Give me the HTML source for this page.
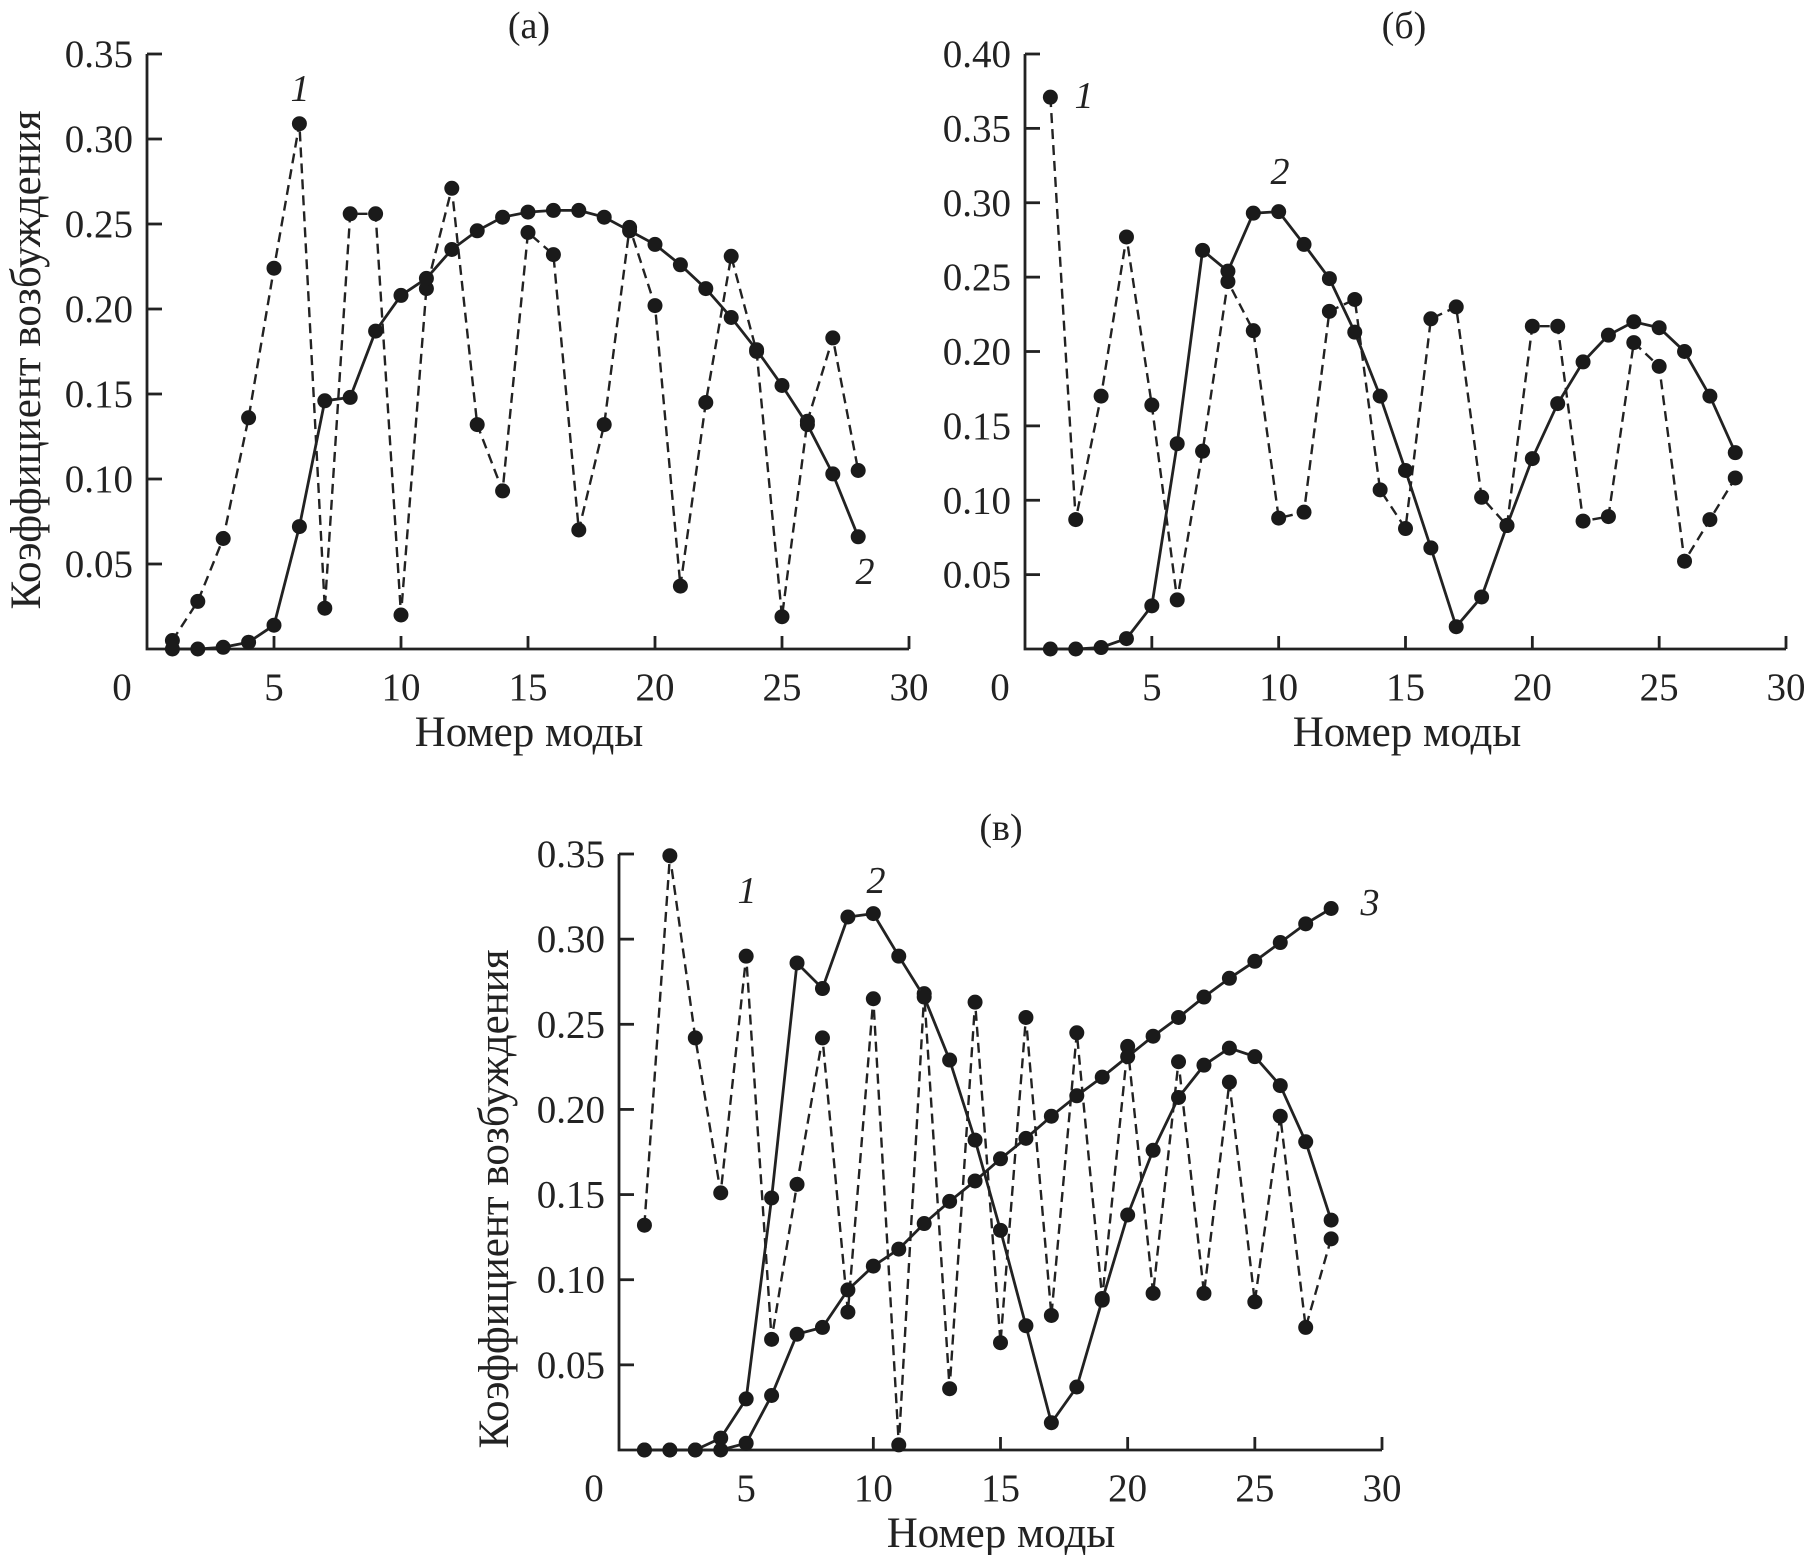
<!DOCTYPE html>
<html><head><meta charset="utf-8">
<style>
html,body{margin:0;padding:0;background:#fff;}
svg{display:block;}
text{font-family:"Liberation Serif","DejaVu Serif",serif;fill:#222;}
</style></head>
<body>
<svg id="chart" width="1808" height="1555" viewBox="0 0 1808 1555" xmlns="http://www.w3.org/2000/svg" font-family="Liberation Serif, DejaVu Serif, serif"></svg>
<script>
const modes = [1,2,3,4,5,6,7,8,9,10,11,12,13,14,15,16,17,18,19,20,21,22,23,24,25,26,27,28];
const xTicks = [5,10,15,20,25,30];
const yTicksA = [0.05,0.10,0.15,0.20,0.25,0.30,0.35];
const yTicksB = [0.05,0.10,0.15,0.20,0.25,0.30,0.35,0.40];
const yTicksC = [0.05,0.10,0.15,0.20,0.25,0.30,0.35];
const a1 = [0.005,0.028,0.065,0.136,0.224,0.309,0.024,0.256,0.256,0.020,0.212,0.271,0.132,0.093,0.245,0.232,0.070,0.132,0.248,0.202,0.037,0.145,0.231,0.175,0.019,0.134,0.183,0.105];
const a2 = [0,0,0.001,0.004,0.014,0.072,0.146,0.148,0.187,0.208,0.218,0.235,0.246,0.254,0.257,0.258,0.258,0.254,0.246,0.238,0.226,0.212,0.195,0.176,0.155,0.132,0.103,0.066];
const b1 = [0.371,0.087,0.170,0.277,0.164,0.033,0.133,0.247,0.214,0.088,0.092,0.227,0.235,0.107,0.081,0.222,0.230,0.102,0.083,0.217,0.217,0.086,0.089,0.206,0.190,0.059,0.087,0.115];
const b2 = [0,0,0.001,0.007,0.029,0.138,0.268,0.254,0.293,0.294,0.272,0.249,0.213,0.170,0.120,0.068,0.015,0.035,0.083,0.128,0.165,0.193,0.211,0.220,0.216,0.200,0.170,0.132];
const c1 = [0.132,0.349,0.242,0.151,0.290,0.065,0.156,0.242,0.081,0.265,0.003,0.268,0.036,0.263,0.063,0.254,0.079,0.245,0.089,0.237,0.092,0.228,0.092,0.216,0.087,0.196,0.072,0.124];
const c2 = [0,0,0,0.007,0.030,0.148,0.286,0.271,0.313,0.315,0.290,0.266,0.229,0.182,0.129,0.073,0.016,0.037,0.088,0.138,0.176,0.207,0.226,0.236,0.231,0.214,0.181,0.135];
const c3 = [0,0,0,0,0.004,0.032,0.068,0.072,0.094,0.108,0.118,0.133,0.146,0.158,0.171,0.183,0.196,0.208,0.219,0.231,0.243,0.254,0.266,0.277,0.287,0.298,0.309,0.318];

const NS = "http://www.w3.org/2000/svg";
const svg = document.getElementById('chart');
function mk(tag, attrs, parent){const e=document.createElementNS(NS,tag);for(const k in attrs)e.setAttribute(k,attrs[k]);(parent||svg).appendChild(e);return e;}
const FF = 'Liberation Serif, DejaVu Serif, serif';

function panel(cfg){
  const g = mk('g',{});
  
  
  const sx = v => cfg.x0 + (v/30)*(cfg.x30-cfg.x0);
  const sy = v => cfg.y0 - (v/cfg.ymax)*(cfg.y0-cfg.ytop);
  const ax = mk('path',{d:`M${cfg.x0},${cfg.ytop} V${cfg.y0} H${cfg.x30}`,fill:'none',stroke:'#222','stroke-width':2.8},g);
  
  
  cfg.yTicks.forEach(t=>{
    const y=sy(t);
    mk('line',{x1:cfg.x0,x2:cfg.x0+15,y1:y,y2:y,stroke:'#222','stroke-width':2.8},g);
    const tx=mk('text',{x:cfg.x0-14,y:y+13,'font-size':39,'font-family':FF,'text-anchor':'end'},g);
    
    
    tx.textContent=t.toFixed(2);
  });
  const z=mk('text',{x:cfg.x0-25,y:cfg.y0+51,'font-size':39,'font-family':FF,'text-anchor':'middle'},g);
  
  
  z.textContent='0';
  xTicks.forEach(t=>{
    const x=sx(t);
    mk('line',{x1:x,x2:x,y1:cfg.y0,y2:cfg.y0-13,stroke:'#222','stroke-width':2.8},g);
    const tx=mk('text',{x:x,y:cfg.y0+51,'font-size':39,'font-family':FF,'text-anchor':'middle'},g);
    
    
    tx.textContent=String(t);
  });
  const xt=mk('text',{x:cfg.xtitle[0],y:cfg.xtitle[1],'font-size':43,'font-family':FF,'text-anchor':'middle'},g);
  
  
  xt.textContent='Номер моды';
  if(cfg.ytitle){
    const yt=mk('text',{x:0,y:0,'font-size':43,'font-family':FF,'text-anchor':'middle',transform:`translate(${cfg.ytitle[0]},${cfg.ytitle[1]}) rotate(-90)`},g);
    
    
    yt.textContent='Коэффициент возбуждения';
  }
  const tt=mk('text',{x:cfg.title[0],y:cfg.title[1],'font-size':38,'font-family':FF,'text-anchor':'middle'},g);
  
  
  tt.textContent=cfg.titleText;
  cfg.series.forEach(s=>{
    const d=modes.map((m,i)=>(i?'L':'M')+sx(m).toFixed(1)+','+sy(s.vals[i]).toFixed(1)).join(' ');
    const p=mk('path',{d:d,fill:'none',stroke:'#222','stroke-width':s.dash?2.4:2.8,'stroke-dasharray':s.dash?'10,6':'none'},g);
    
    
    modes.forEach((m,i)=>{
      const c=mk('circle',{cx:sx(m),cy:sy(s.vals[i]),r:7.5,fill:'#1a1a1a'},g);
      
      
    });
  });
  cfg.labels.forEach(l=>{
    const t=mk('text',{x:l[1],y:l[2],'font-size':38,'font-family':FF,'font-style':'italic','text-anchor':'middle'},g);
    
    
    t.textContent=l[0];
  });
}

panel({name:'panel-a',x0:147,x30:909,y0:649,ytop:54,ymax:0.35,yTicks:yTicksA,
  xtitle:[529,746],ytitle:[40,360],title:[529,38],titleText:'(а)',
  series:[{id:'a1',vals:a1,dash:true},{id:'a2',vals:a2,dash:false}],
  labels:[['1',300,101],['2',865,584]]});
panel({name:'panel-b',x0:1025,x30:1786,y0:649,ytop:54,ymax:0.40,yTicks:yTicksB,
  xtitle:[1407,746],ytitle:null,title:[1404,38],titleText:'(б)',
  series:[{id:'b1',vals:b1,dash:true},{id:'b2',vals:b2,dash:false}],
  labels:[['1',1084,108],['2',1280,184]]});
panel({name:'panel-c',x0:619,x30:1382,y0:1450,ytop:854,ymax:0.35,yTicks:yTicksC,
  xtitle:[1001,1547],ytitle:[508,1199],title:[1001,840],titleText:'(в)',
  series:[{id:'c1',vals:c1,dash:true},{id:'c2',vals:c2,dash:false},{id:'c3',vals:c3,dash:false}],
  labels:[['1',747,903],['2',876,893],['3',1370,915]]});
</script>
</body></html>
